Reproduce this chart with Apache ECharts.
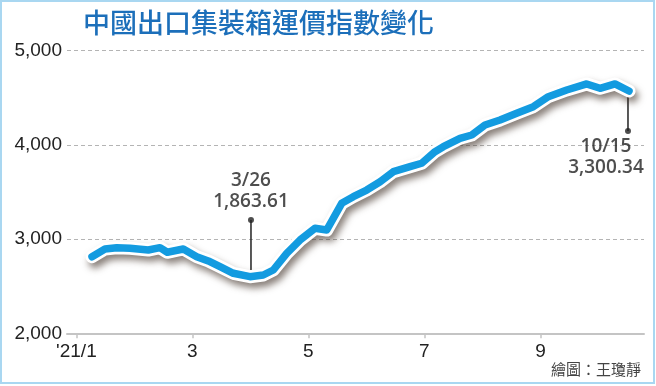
<!DOCTYPE html>
<html>
<head>
<meta charset="utf-8">
<script src="https://cdn.jsdelivr.net/npm/echarts@6/dist/echarts.min.js"></script>
<style>
html,body{margin:0;padding:0;background:#fff;}
#c{width:656px;height:386px;}
</style>
</head>
<body>
<div id="c"></div>
<script>
// ---- data (x in month units: 1 = Jan, 3 = Mar ...) ----
const titleText = '中國出口集裝箱運價指數變化';
const creditText = '繪圖：王瓊靜';
const xMonths = [1.269,1.493,1.695,1.924,2.240,2.441,2.567,2.843,3.074,3.274,3.476,3.705,3.993,4.222,4.395,4.626,4.855,5.114,5.316,5.574,5.774,6.005,6.236,6.464,6.752,6.953,7.183,7.326,7.614,7.816,8.045,8.303,8.591,8.878,9.136,9.453,9.798,10.028,10.286,10.528];
const values  = [2813,2895,2909,2902,2884,2909,2860,2895,2813,2768,2707,2637,2601,2619,2672,2849,2990,3115,3097,3380,3450,3521,3609,3716,3769,3805,3928,3981,4070,4105,4211,4264,4336,4406,4512,4583,4647,4601,4647,4572];
const xTickValues = [1,3,5,7,9];
const xTickLabels = ["'21/1",'3','5','7','9'];
// annotations
const annotDates  = ['3/26','10/15'];
const annotValues = ['1,863.61','3,300.34'];
const annotX      = [4.01,10.51];
const annotCurveY = [2601,4572];
const annotDotY   = [3203,4148];

const seriesData = xMonths.map((m,i)=>[m,values[i]]);

const chart = echarts.init(document.getElementById('c'), null, {renderer:'canvas'});
const blue = '#139be0';
const numFont = '"Liberation Sans", Arial, sans-serif';
const annFont = '"Open Sans", "Liberation Sans", sans-serif';

const annotLineSeries = annotX.map((x,i)=>({
  type:'line', data:[[x,annotCurveY[i]],[x,annotDotY[i]]],
  symbol:'none', silent:true, z:1,
  lineStyle:{color:'#222',width:1.5}
}));

option = {
  animation:false,
  backgroundColor:'#fff',
  title:[
    {text:titleText,left:78,top:4,textStyle:{fontFamily:'"Noto Sans CJK TC", sans-serif',fontSize:27,fontWeight:500,color:'#1c6fba'}},
    {text:creditText,right:10,bottom:4,textStyle:{fontFamily:'"Noto Sans CJK TC", sans-serif',fontSize:15,fontWeight:400,color:'#444'}}
  ],
  graphic:[{type:'rect',shape:{x:1,y:1,width:653,height:382},style:{fill:'none',stroke:'#a9d7f1',lineWidth:2},silent:true,z:-1}],
  grid:{left:67,right:12,top:50.7,bottom:52.7},
  xAxis:{
    type:'value',min:0.838,max:10.786,
    axisLine:{show:true,lineStyle:{color:'#c4c4c4',width:2}},
    axisTick:{show:true,customValues:xTickValues,length:5,lineStyle:{color:'#c4c4c4',width:1.5}},
    axisLabel:{customValues:xTickValues,margin:9,fontFamily:numFont,fontSize:19,color:'#222',
      formatter:v=>{const i=xTickValues.indexOf(v);return i>=0?xTickLabels[i]:'';}},
    splitLine:{show:false}
  },
  yAxis:{
    type:'value',min:2000,max:5000,interval:1000,
    axisLine:{show:false},axisTick:{show:false},
    axisLabel:{margin:5,fontFamily:numFont,fontSize:19,color:'#222',
      formatter:v=>v.toLocaleString('en-US')},
    splitLine:{show:true,lineStyle:{color:'#b4b4b4',width:1,type:[4,3]}}
  },
  series:[
    ...annotLineSeries,
    {type:'line',data:seriesData,symbol:'none',silent:true,z:2,
     lineStyle:{color:'#ffffff',width:13,cap:'round',join:'round',
       shadowColor:'rgba(60,45,35,0.6)',shadowBlur:7,shadowOffsetX:3,shadowOffsetY:5}},
    {type:'line',data:seriesData,symbol:'none',silent:true,z:3,
     lineStyle:{color:blue,width:7.5,cap:'round',join:'round'}},
    {type:'scatter',silent:true,z:4,symbol:'circle',symbolSize:6,
     itemStyle:{color:'#222'},
     data:[
       {value:[annotX[0],annotDotY[0]],label:{show:true,position:'top',distance:5,
         formatter:annotDates[0]+'\n'+annotValues[0]}},
       {value:[annotX[1],annotDotY[1]],label:{show:true,position:'bottom',distance:2,offset:[-22,0],
         formatter:annotDates[1]+'\n'+annotValues[1]}}
     ],
     label:{fontFamily:annFont,fontSize:19,fontWeight:600,lineHeight:21,color:'#222',align:'center'}
    }
  ]
};
chart.setOption(option);
</script>
</body>
</html>
